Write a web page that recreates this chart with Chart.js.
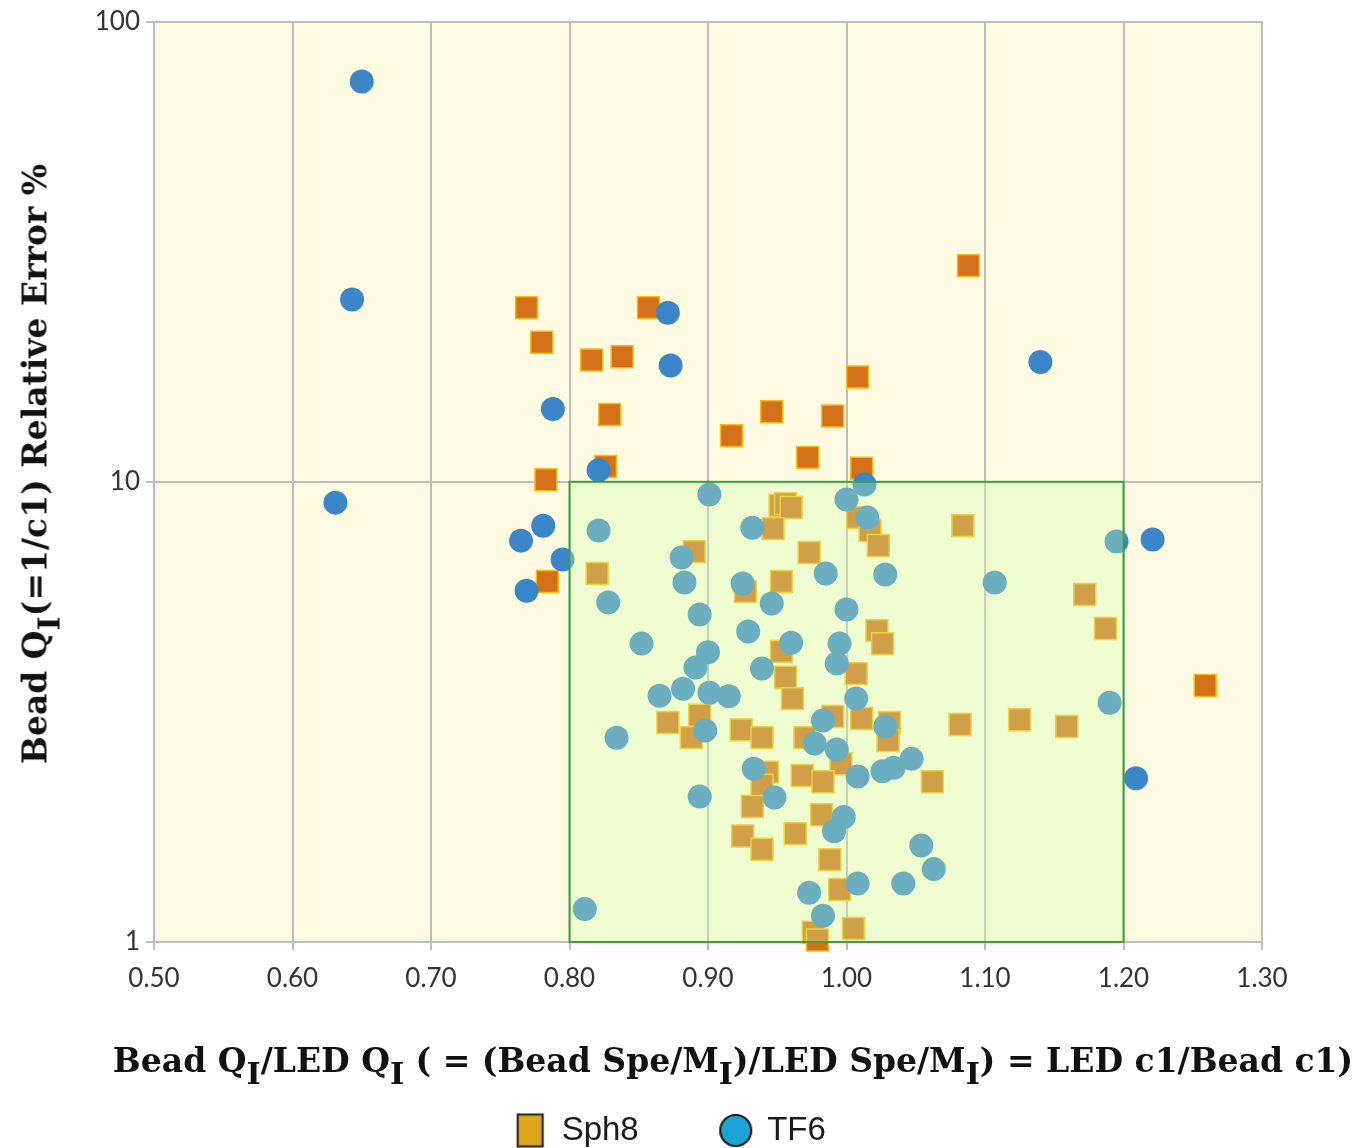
<!DOCTYPE html>
<html>
<head>
<meta charset="utf-8">
<script src="https://cdn.jsdelivr.net/npm/chart.js@4.4.1/dist/chart.umd.min.js"></script>
<style>
  html, body { margin: 0; padding: 0; background: #ffffff; overflow: hidden; }
  #wrap { position: relative; width: 1357px; height: 1148px; overflow: hidden; }
  #chart { position: absolute; left: 0; top: 0; }
  .axis-title { position: absolute; white-space: nowrap; font-family: "DejaVu Serif", "Liberation Serif", serif; font-weight: bold; font-size: 33px; color: #111; line-height: 1; }
  .axis-title sub { font-size: 0.92em; vertical-align: -0.42em; line-height: 0; }
  #ytitle { left: 35px; top: 464px; transform: translate(-50%, -50%) rotate(-90deg); }
  #xtitle { left: 733px; top: 1060px; transform: translate(-50%, -50%); }
</style>
</head>
<body>
<div id="wrap">
  <canvas id="chart" width="1357" height="1157"></canvas>
  <div id="ytitle" class="axis-title">Bead Q<sub>I</sub>(=1/c1) Relative Error %</div>
  <div id="xtitle" class="axis-title">Bead Q<sub>I</sub>/LED Q<sub>I</sub> ( = (Bead Spe/M<sub>I</sub>)/LED Spe/M<sub>I</sub>) = LED c1/Bead c1)</div>
</div>
<script>
// ---- Data ----
const seriesNames = ['Sph8', 'TF6'];

const sph8X = [0.769,0.780,0.816,0.838,0.857,1.088,1.008,0.946,0.990,0.829,0.917,0.972,1.011,0.826,0.783,0.784,1.259,
  0.820,0.890,0.927,0.953,0.952,0.956,0.960,0.947,0.973,1.008,1.017,1.023,1.084,1.022,1.026,0.953,0.956,0.961,1.007,0.871,
  0.894,0.888,0.924,0.939,0.970,0.990,1.011,1.031,1.030,1.082,1.125,1.159,1.172,1.187,0.996,0.943,0.939,0.932,0.925,0.939,
  0.968,0.983,1.062,0.982,0.963,0.988,0.995,0.976,1.005,0.979];
const sph8Y = [23.9,20.1,18.4,18.7,23.9,29.5,16.9,14.2,13.9,14.0,12.6,11.3,10.7,10.8,10.1,6.07,3.61,
  6.32,7.05,5.78,6.07,8.88,8.97,8.79,7.91,7.02,8.36,7.84,7.27,8.03,4.75,4.45,4.28,3.76,3.38,3.83,3.00,
  3.11,2.78,2.89,2.78,2.78,3.09,3.06,3.00,2.74,2.97,3.04,2.94,5.69,4.80,2.44,2.34,2.19,1.97,1.70,1.59,
  2.30,2.23,2.23,1.89,1.72,1.51,1.30,1.05,1.07,1.01];

const tf6X = [0.650,0.643,0.631,0.871,0.873,0.788,0.821,0.765,0.781,0.769,0.795,1.140,1.221,1.209,1.013,
  0.901,0.821,0.828,0.881,0.883,0.925,0.946,0.894,0.929,0.852,0.900,0.891,0.939,0.960,0.932,0.865,0.882,0.901,0.915,0.898,
  0.834,0.933,0.948,0.894,0.811,1.000,1.015,0.985,1.028,1.107,1.000,0.995,0.993,1.007,0.983,1.028,0.977,0.993,1.008,1.026,
  1.034,1.047,0.998,0.991,1.054,1.063,1.041,1.008,0.973,0.983,1.195,1.190];
const tf6Y = [74.1,24.9,9.01,23.3,17.9,14.4,10.6,7.45,8.03,5.80,6.78,18.2,7.49,2.27,9.86,
  9.38,7.84,5.47,6.85,6.04,6.01,5.44,5.15,4.73,4.45,4.26,3.95,3.93,4.47,7.95,3.43,3.55,3.48,3.42,2.88,
  2.78,2.38,2.06,2.07,1.18,9.15,8.36,6.32,6.29,6.04,5.28,4.45,4.03,3.38,3.03,2.94,2.70,2.62,2.29,2.35,
  2.39,2.50,1.87,1.74,1.62,1.44,1.34,1.34,1.28,1.14,7.42,3.31];

const xTickLabels = ['0.50','0.60','0.70','0.80','0.90','1.00','1.10','1.20','1.30'];
const yTickValues = [1, 10, 100];
const yTickLabels = ['1', '10', '100'];

// acceptance region (data units)
const boxX = [0.8, 1.2];
const boxY = [1, 10];

// ---- helpers ----
function toPoints(xs, ys) { return xs.map((x, i) => ({ x: x, y: ys[i] })); }

function makeRectIcon() {
  const c = document.createElement('canvas');
  c.width = 29; c.height = 36;
  const g = c.getContext('2d');
  g.fillStyle = '#DCA618';
  g.fillRect(2, 2, 25, 32);
  g.strokeStyle = '#2b2b2b'; g.lineWidth = 2.2;
  g.strokeRect(2, 2, 25, 32);
  return c;
}
function makeCircleIcon() {
  const c = document.createElement('canvas');
  c.width = 35; c.height = 35;
  const g = c.getContext('2d');
  g.beginPath(); g.arc(17.5, 17.5, 15.5, 0, Math.PI * 2);
  g.fillStyle = '#1BA4D5'; g.fill();
  g.strokeStyle = '#1a1a1a'; g.lineWidth = 2.2; g.stroke();
  return c;
}
const rectIcon = makeRectIcon();
const circleIcon = makeCircleIcon();

const plotBg = {
  id: 'plotBg',
  beforeDraw(chart) {
    const a = chart.chartArea, ctx = chart.ctx;
    ctx.save();
    ctx.fillStyle = '#FFFBE3';
    ctx.fillRect(a.left, a.top, a.right - a.left, a.bottom - a.top);
    ctx.restore();
  }
};

const regionOverlay = {
  id: 'regionOverlay',
  afterDatasetsDraw(chart) {
    const xs = chart.scales.x, ys = chart.scales.y, ctx = chart.ctx;
    const l = xs.getPixelForValue(boxX[0]), r = xs.getPixelForValue(boxX[1]);
    const t = ys.getPixelForValue(boxY[1]), b = ys.getPixelForValue(boxY[0]);
    ctx.save();
    ctx.fillStyle = 'rgba(205,255,170,0.33)';
    ctx.fillRect(l, t, r - l, b - t);
    ctx.strokeStyle = '#3DA23A';
    ctx.lineWidth = 2;
    ctx.strokeRect(l, t, r - l, b - t);
    ctx.restore();
  }
};

const gridColor = '#BDBDBD';
const tickFont = { family: 'Lato, "Open Sans", sans-serif', size: 26 };

new Chart(document.getElementById('chart'), {
  type: 'scatter',
  data: {
    datasets: [
      {
        label: seriesNames[0],
        data: toPoints(sph8X, sph8Y),
        pointStyle: 'rect',
        pointRadius: 15.5,
        pointHoverRadius: 15.5,
        backgroundColor: '#D4701A',
        borderColor: '#F6BC12',
        borderWidth: 1.5,
        order: 1,
        clip: false
      },
      {
        label: seriesNames[1],
        data: toPoints(tf6X, tf6Y),
        pointStyle: 'circle',
        pointRadius: 12,
        pointHoverRadius: 12,
        backgroundColor: '#3A86C9',
        borderColor: '#3A86C9',
        borderWidth: 0,
        order: 0,
        clip: false
      }
    ]
  },
  options: {
    responsive: false,
    animation: false,
    layout: { padding: { left: 79, right: 95, top: 16, bottom: 0 } },
    plugins: {
      tooltip: { enabled: false },
      legend: {
        position: 'bottom',
        labels: {
          usePointStyle: true,
          pointStyleWidth: 30,
          boxHeight: 33,
          padding: 82,
          color: '#1a1a1a',
          font: { family: '"Liberation Sans", Arial, sans-serif', size: 33 },
          generateLabels() {
            return [
              { text: seriesNames[0], pointStyle: rectIcon, fillStyle: '#DCA618', strokeStyle: '#2b2b2b', lineWidth: 0, hidden: false, datasetIndex: 0, fontColor: '#1a1a1a' },
              { text: seriesNames[1], pointStyle: circleIcon, fillStyle: '#1BA4D5', strokeStyle: '#1a1a1a', lineWidth: 0, hidden: false, datasetIndex: 1, fontColor: '#1a1a1a' }
            ];
          }
        }
      }
    },
    scales: {
      x: {
        type: 'linear',
        min: 0.5,
        max: 1.3,
        afterFit(scale) { scale.height = 90; },
        afterBuildTicks(scale) { scale.ticks = xTickLabels.map(s => ({ value: parseFloat(s) })); },
        ticks: {
          font: tickFont,
          color: '#333333',
          padding: 13,
          maxRotation: 0,
          autoSkip: false,
          callback(value, index) { return xTickLabels[index]; }
        },
        grid: { color: gridColor, lineWidth: 2, tickLength: 8, tickColor: gridColor },
        border: { color: gridColor, width: 2 }
      },
      y: {
        type: 'logarithmic',
        min: 1,
        max: 100,
        afterFit(scale) { scale.width = 75; },
        afterBuildTicks(scale) { scale.ticks = yTickValues.map(v => ({ value: v, major: true })); },
        ticks: {
          font: tickFont,
          color: '#333333',
          padding: 6,
          autoSkip: false,
          callback(value, index) { return yTickLabels[index]; }
        },
        grid: { color: gridColor, lineWidth: 2, tickLength: 8, tickColor: gridColor },
        border: { color: gridColor, width: 2 }
      }
    }
  },
  plugins: [plotBg, regionOverlay]
});
</script>
</body>
</html>
